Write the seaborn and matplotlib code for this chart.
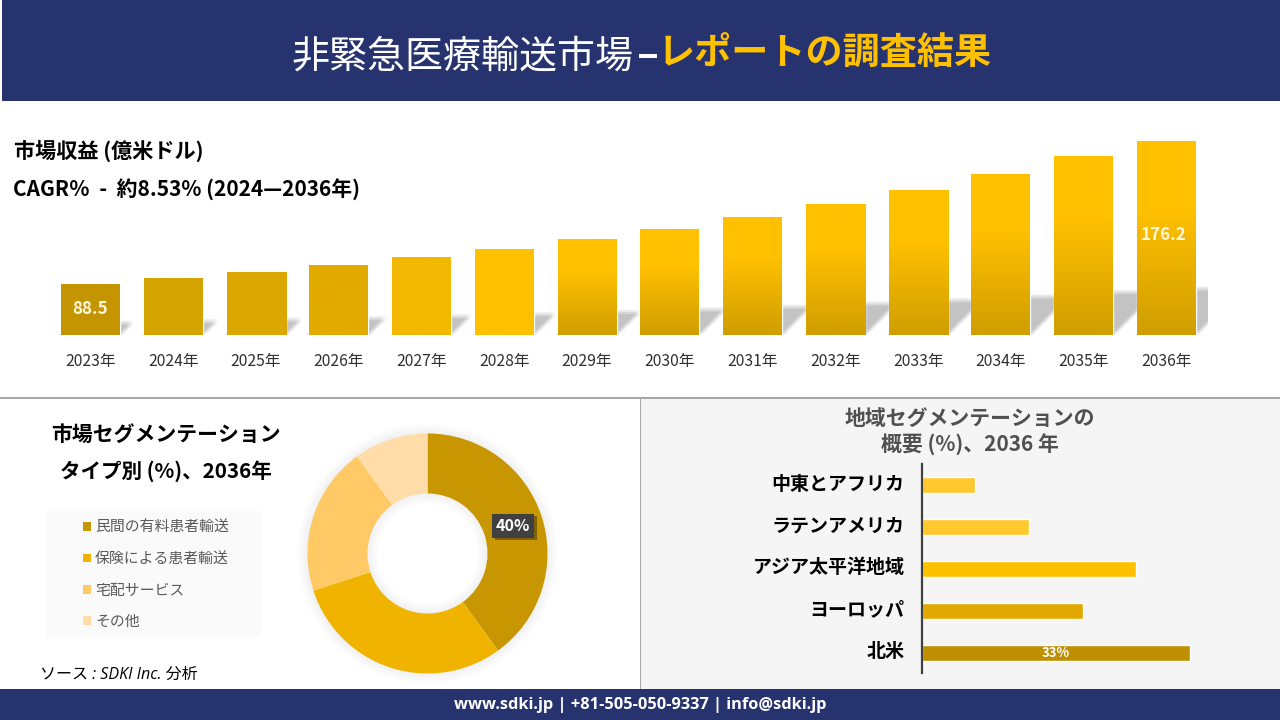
import numpy as np
import matplotlib
matplotlib.use("Agg")
import matplotlib.pyplot as plt
import matplotlib.patheffects as pe
from matplotlib.colors import LinearSegmentedColormap
from matplotlib.patches import Rectangle, Polygon, Wedge
from matplotlib.transforms import ScaledTranslation
import seaborn as sns

years = ["2023年","2024年","2025年","2026年","2027年","2028年","2029年","2030年","2031年","2032年","2033年","2034年","2035年","2036年"]
revenue = [88.5,92.2,95.9,100.2,105.1,110.0,116.1,122.2,129.6,137.6,146.1,155.9,166.9,176.2]
bar_top = ["#C49500","#D4A300","#DCA800","#E2AB00","#F2B700","#FFC000"] + ["#FFC000"]*8
bar_bottom = ["#C49500","#D4A300","#DCA800","#E2AB00","#F2B700","#FFC000"] + ["#D09E00"]*8

segments = ["民間の有料患者輸送","保険による患者輸送","宅配サービス","その他"]
segment_share = [40,30,20,10]
segment_colors = ["#C89600","#F0B400","#FFC966","#FFDCA8"]

regions = ["中東とアフリカ","ラテンアメリカ","アジア太平洋地域","ヨーロッパ","北米"]
region_share = [6.5,13.2,26.3,19.8,33]
region_colors = ["#FFC82E","#FFC82E","#FFC000","#E0A800","#BF8F00"]

NAVY = "#27336F"
W, H = 1280, 720

sns.set_theme(style="white")
JP = ["Noto Sans CJK JP", "DejaVu Sans"]
plt.rcParams["font.family"] = JP

fig = plt.figure(figsize=(12.8, 7.2), dpi=100, facecolor="white")

def px_axes(x0, y0, x1, y1, **kw):
    return fig.add_axes([x0/W, 1-y1/H, (x1-x0)/W, (y1-y0)/H], **kw)

def px_text(x, y, s, **kw):
    kw.setdefault("va", "center")
    return fig.text(x/W, 1-y/H, s, **kw)

def px_rect(x0, y0, x1, y1, color, z=0):
    fig.add_artist(Rectangle((x0/W, 1-y1/H), (x1-x0)/W, (y1-y0)/H, transform=fig.transFigure,
                             facecolor=color, edgecolor="none", zorder=z))

# panels
px_rect(2, 0, 1280, 101, NAVY)
px_rect(641, 398, 1280, 689, "#F5F5F5")
px_rect(0, 397, 1280, 398.5, "#A6A6A6")
px_rect(640, 397, 641, 689, "#A6A6A6")
px_rect(0, 689, 1280, 720, NAVY)
px_rect(46, 511, 261, 637, "#FAFAFA")

# header
px_text(291.5, 57, "非緊急医療輸送市場", color="white", fontsize=27.4, ha="left", fontweight="normal", zorder=5)
px_text(648, 57, "–", color="white", fontsize=29, ha="center", fontweight="bold", zorder=5)
px_text(658, 53, "レポートの調査結果", color="#FFC000", fontsize=26.7, ha="left", fontweight="bold", zorder=5)

px_text(14, 151, "市場収益 (億米ドル)", color="black", fontsize=15.2, ha="left", fontweight="bold", zorder=5)
px_text(13, 190, "CAGR％  -  約8.53% (2024—2036年)", color="black", fontsize=15, ha="left", fontweight="bold", zorder=5)

# revenue bars
step = (1137-61)/13
x_left = -(90.5-40)/step
x_right = 13 + (1208-1166.5)/step
ax = px_axes(40, 130, 1208, 335)
ax.patch.set_alpha(0)
sns.barplot(x=years, y=revenue, color="#FFC000", width=59/step, ax=ax, zorder=3, saturation=1)
base = revenue[0] - 51*(revenue[-1]-revenue[0])/143
top = revenue[-1] + 11*(revenue[-1]-revenue[0])/143
ax.set_xlim(x_left, x_right)
ax.set_ylim(base, top)

px_per_unit = 205/(top-base)
layers = [(dx, dy) for dx in (-2.5, -1.25, 0, 1.25, 2.5) for dy in (-2, 0, 2)]
layer_alpha = 1 - 0.8**(1/len(layers))
for i, patch in enumerate(ax.patches):
    x0, w, v = patch.get_x(), patch.get_width(), patch.get_height()
    # soft grey skewed floor shadow, derived from each bar
    hgt = (v-base)*0.24
    shift = hgt*px_per_unit*1.0/step
    for dx, dy in layers:
        ox, oy = dx/step, dy/px_per_unit
        ax.add_patch(Polygon([(x0+ox, base), (x0+w+ox, base), (x0+w+shift+ox, base+hgt+oy), (x0+shift+ox, base+hgt+oy)],
                             closed=True, facecolor="black", alpha=layer_alpha, edgecolor="none", zorder=1))
    cmap = LinearSegmentedColormap.from_list("g", [(0, bar_bottom[i]), (0.65, bar_top[i]), (1, bar_top[i])])
    im = ax.imshow(np.linspace(1, 0, 64).reshape(-1, 1), cmap=cmap, vmin=0, vmax=1, aspect="auto",
                   extent=(x0, x0+w, base, v), zorder=3.5)
    im.set_clip_path(patch)
ax.set_xlim(x_left, x_right)
ax.set_ylim(base, top)
sns.despine(ax=ax, left=True, bottom=True)
ax.set_yticks([])
ax.set_xlabel(""); ax.set_ylabel("")
ax.tick_params(axis="x", length=0, pad=13, labelsize=11.3, labelcolor="#303030")
for i in (0, len(revenue)-1):
    ax.text(i - (0.0 if i == 0 else 0.04), (base+revenue[i])/2 + (0 if i == 0 else 1.8), f"{revenue[i]:.1f}",
            color="#FFF8DC", ha="center", va="center", fontsize=12.2, fontweight="bold", zorder=6)

# donut
px_text(166, 434, "市場セグメンテーション", color="black", fontsize=15, ha="center", fontweight="bold", zorder=5)
px_text(166, 471, "タイプ別 (%)、2036年", color="black", fontsize=14.8, ha="center", fontweight="bold", zorder=5)

axd = px_axes(297.5, 423.5, 557.5, 683.5)
axd.patch.set_alpha(0)
wedges, _ = axd.pie(segment_share, colors=segment_colors, startangle=90, counterclock=False, radius=1.0,
                    wedgeprops=dict(width=0.5, edgecolor="none", zorder=3))
# soft glow outside the ring and inside the hole
for k in range(1, 8):
    axd.add_patch(Wedge((0, 0), 1.0+k*0.012, 0, 360, width=k*0.012+0.02, facecolor="black", alpha=0.007, edgecolor="none", zorder=1))
    axd.add_patch(Wedge((0, 0), 0.5, 0, 360, width=k*0.012, facecolor="black", alpha=0.007, edgecolor="none", zorder=1))
axd.set_xlim(-130/120, 130/120)
axd.set_ylim(-130/120, 130/120)
ang = np.deg2rad((wedges[0].theta1+wedges[0].theta2)/2)
axd.text(0.75*np.cos(ang), 0.75*np.sin(ang), f"{segment_share[0]}%", color="white", ha="center", va="center",
         fontsize=11.5, fontweight="bold", zorder=6,
         bbox=dict(boxstyle="square,pad=0.25", facecolor="#404040", edgecolor="none",
                   path_effects=[pe.SimplePatchShadow(offset=(2, -2), alpha=0.4), pe.Normal()]))

leg = fig.legend(wedges, segments, loc="upper left", bbox_to_anchor=(83/W, 1-521/H), frameon=False,
                 fontsize=10.7, labelcolor="#595959", handlelength=0.54, handleheight=0.54,
                 handletextpad=0.27, labelspacing=1.155, borderpad=0, borderaxespad=0)

px_text(40, 675, "ソース : SDKI Inc. 分析", color="black", fontsize=11.5, ha="left", style="italic",
        family=["Open Sans", "Noto Sans CJK JP"], zorder=5)

# regional bars
px_text(970, 418, "地域セグメンテーションの", color="#505050", fontsize=15, ha="center", fontweight="bold", zorder=5)
px_text(970, 445, "概要 (%)、2036 年", color="#505050", fontsize=15, ha="center", fontweight="bold", zorder=5)

axr = px_axes(922, 464, 1270, 673)
axr.patch.set_alpha(0)
sns.barplot(y=regions, x=region_share, hue=regions, palette=region_colors, legend=False, ax=axr,
            width=16/41.9, saturation=1, dodge=False)
axr.set_xlim(0, 348/(268/33))
axr.set_ylim(4+(673-652.5)/41.9, -(485-464)/41.9)
sns.despine(ax=axr, bottom=True)
axr.spines["left"].set_color("#404040")
axr.spines["left"].set_linewidth(1.6)
axr.set_xticks([])
axr.set_xlabel(""); axr.set_ylabel("")
axr.tick_params(axis="y", length=0, pad=12.5, labelsize=13.7, labelcolor="black")
for lab in axr.get_yticklabels():
    lab.set_fontweight("bold")
    lab.set_transform(lab.get_transform() + ScaledTranslation(0, 2/72, fig.dpi_scale_trans))
axr.text(region_share[-1]/2, 4, f"{region_share[-1]}%", color="white", ha="center", va="center",
         fontsize=9.5, fontweight="bold", zorder=6)

# footer
px_text(640, 705, "www.sdki.jp | +81-505-050-9337 | info@sdki.jp", color="white", fontsize=11.75, ha="center",
        fontweight="bold", family=["Open Sans", "DejaVu Sans"], zorder=5)

fig.savefig("out.png", dpi=100, facecolor="white")
